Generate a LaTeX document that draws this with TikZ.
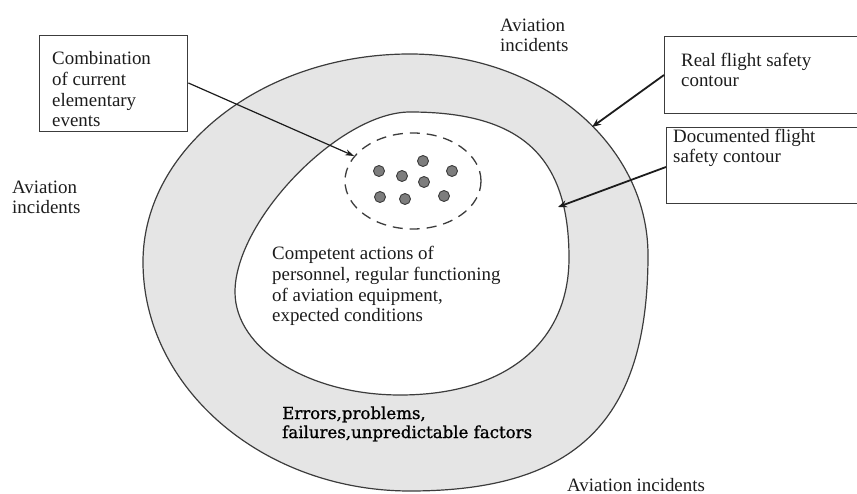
\documentclass[tikz,border=0pt]{standalone}
\usepackage{fontspec}
\setmainfont{Liberation Serif}
\newfontfamily\errfont[FakeBold=1]{DejaVu Serif}
\usetikzlibrary{arrows.meta,positioning,shapes.geometric}
\definecolor{ring}{RGB}{229,229,229}
\definecolor{edge}{RGB}{60,60,60}
\definecolor{dotgray}{RGB}{125,125,125}
\definecolor{ink}{RGB}{28,28,28}

\begin{document}
\begin{tikzpicture}[x=1pt, y=-1pt,
  lbl/.style={font=\fontsize{18.9}{20.7}\selectfont, text=ink, align=left, inner sep=0pt, anchor=base west},
  callout/.style={draw=edge, line width=1.4pt, fill=white, inner sep=0pt, anchor=north west},
  contour/.style={draw=edge, line width=1.2pt},
  event/.style={circle, draw=edge, fill=dotgray, line width=0.9pt, minimum size=11pt, inner sep=0pt},
  pointer/.style={-{Stealth[length=9pt,width=7pt]}, line width=1.8pt, draw=ink}]
  \useasboundingbox (0,0) rectangle (857,494);
  \clip (0,0) rectangle (857,494);

  \draw[contour, fill=ring] (410,54)
    .. controls (541,54) and (648,144) .. (648,255)
    .. controls (648,420) and (577,491) .. (410,491)
    .. controls (263,491) and (143,388) .. (143,262)
    .. controls (143,148) and (263,54) .. (410,54) -- cycle;
  \draw[contour, fill=white] (410,112)
    .. controls (521,112) and (569,156) .. (569,258)
    .. controls (569,343) and (505,395) .. (400,395)
    .. controls (309,395) and (235,349) .. (235,292)
    .. controls (235,220) and (340,112) .. (410,112) -- cycle;

  \node[ellipse, draw=edge, line width=1.3pt, dash pattern=on 10pt off 7pt,
        minimum width=136pt, minimum height=96pt, inner sep=0pt] (cluster) at (413,181) {};
  \foreach \n/\px/\py in {1/379/171, 2/402/176, 3/423/161, 4/424/182,
                          5/452/171, 6/380/197, 7/405/199, 8/444/196}
    \node[event] (e\n) at (\px,\py) {};

  \coordinate (realpt) at (592,127);
  \coordinate (docpt) at (558,207);

  \node[callout, minimum width=148pt, minimum height=96pt] (combobox) at (39,35) {};
  \node[lbl] (combotxt) at (52,127) {Combination\\of current\\elementary\\events};
  \node[callout, minimum width=210pt, minimum height=77pt] (realbox) at (664,36) {};
  \node[lbl] (realtxt) at (681,87) {Real flight safety\\contour};
  \node[callout, minimum width=210pt, minimum height=76pt] (docbox) at (666,127) {};
  \node[lbl] (doctxt) at (673,163) {Documented flight\\safety contour};

  \node[lbl] (topinc) at (500,52) {Aviation\\incidents};
  \node[lbl] (leftinc) at (12,214) {Aviation\\incidents};
  \node[lbl] (botinc) at (567,491) {Aviation incidents};
  \node[lbl] (normal) at (272,322) {Competent actions of\\personnel, regular functioning\\of aviation equipment,\\expected conditions};
  \node[lbl, font=\errfont\fontsize{16.6}{19}\selectfont, text=black] (errors) at (282,438)
    {Errors,problems,\\failures,unpredictable factors};

  \draw[-{Stealth[length=9pt,width=6pt]}, line width=1.2pt, draw=ink] (combobox.east |- 0,83) -- (cluster.157);
  \draw[pointer] (realbox.west |- 0,75) -- (realpt);
  \draw[pointer] (docbox.west |- 0,167) -- (docpt);
\end{tikzpicture}
\end{document}
